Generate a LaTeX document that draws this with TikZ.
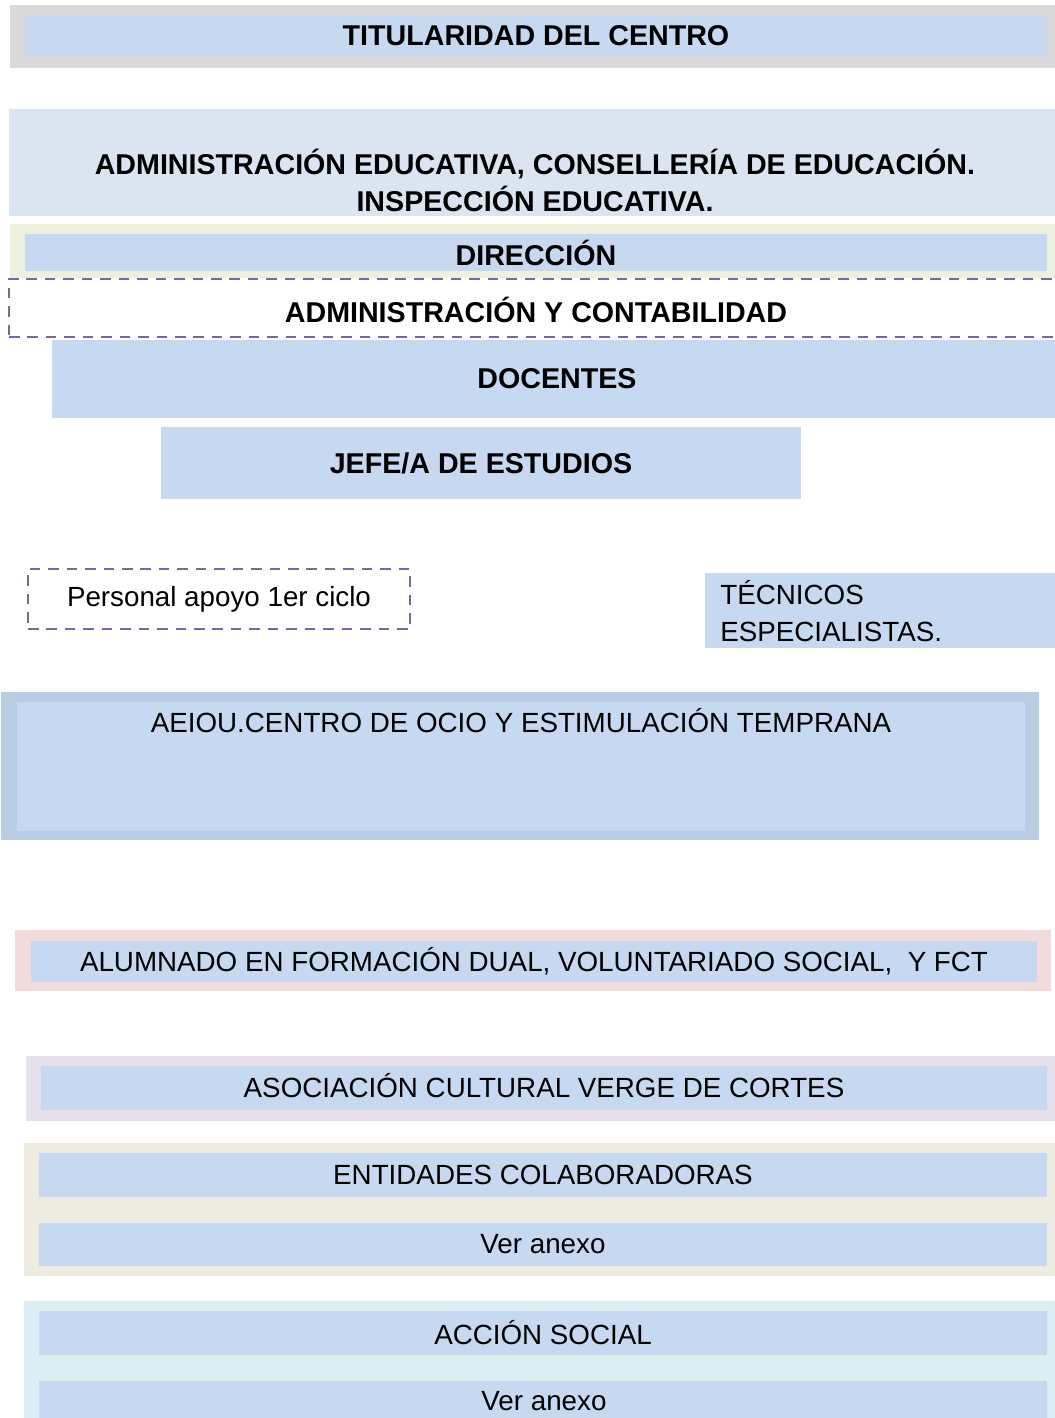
\documentclass[tikz,border=0pt]{standalone}
\usepackage{fontspec}
\setmainfont{Liberation Sans}
\usetikzlibrary{fit,positioning}
\definecolor{boxblue}{HTML}{C6D9F1}
\definecolor{titgray}{HTML}{D9D9D9}
\definecolor{admblue}{HTML}{DBE5F1}
\definecolor{dirgreen}{HTML}{EBF1DE}
\definecolor{purp}{HTML}{8064A2}
\definecolor{aeiouout}{HTML}{B8CCE4}
\definecolor{alumpink}{HTML}{F2DCDB}
\definecolor{asolav}{HTML}{E5E0EC}
\definecolor{entbeige}{HTML}{EEECE1}
\definecolor{acccyan}{HTML}{DBEEF3}
\tikzset{
    every node/.style={font=\fontsize{15.8}{21}\selectfont, inner sep=0pt}, % text size everywhere
    blk/.style={fill=boxblue},
    title/.style={font=\fontsize{16.3}{21}\selectfont\bfseries},
    txt/.style={label={center:#1}},
    ttl/.style={label={[title]center:#1}},
    dashbox/.style={draw=purp, line width=1.4pt, dash pattern=on 6pt off 4.5pt},
}

\begin{document}
\begin{tikzpicture}[x=0.02cm, y=-0.02cm]
    \useasboundingbox (0,0) rectangle (1055,1418);

    \node[fill=titgray, fit={(10,5)(1055,68)}] (titout) {};
    \node[blk, fit={(25,15)(1047,57)}, ttl={TITULARIDAD DEL CENTRO}] (tit) {};

    \node[fill=admblue, fit={(9,109)(1055,216)}] (adm) {};
    \node[title, align=center] (admtxt) at (535,180) {ADMINISTRACIÓN EDUCATIVA, CONSELLERÍA DE EDUCACIÓN.\\INSPECCIÓN EDUCATIVA.};

    \node[fill=dirgreen, fit={(10,224)(1055,278)}] (dirout) {};
    \node[blk, fit={(25,234)(1047,271)}, ttl={DIRECCIÓN}] (dir) {};

    \node[dashbox, fit={(9,279)(1064,337)}] (cont) {};
    \node[title] (conttxt) at (536,310) {ADMINISTRACIÓN Y CONTABILIDAD};

    \node[blk, fit={(52,340)(1062,418)}] (doc) {};
    \node[title] (doctxt) at (557,379) {DOCENTES};
    \node[blk, fit={(161,427)(801,499)}, ttl={JEFE/A DE ESTUDIOS}] (jefe) {};

    \node[dashbox, fit={(28,569)(410,629)}, txt={Personal apoyo 1er ciclo}] (apoyo) {};
    \node[blk, fit={(705,573)(1062,648)}] (tec) {};
    \node[align=left, anchor=west] (tectxt) at (720,611) {TÉCNICOS\\ESPECIALISTAS.};

    \node[fill=aeiouout, fit={(1,692)(1039,840)}] (aeiouout) {};
    \node[blk, fit={(17,702)(1025,831)}] (aeiou) {};
    \node (aeioutxt) at (521,721) {AEIOU.CENTRO DE OCIO Y ESTIMULACIÓN TEMPRANA};

    \node[fill=alumpink, fit={(15,930)(1051,991)}] (alumout) {};
    \node[blk, fit={(31,941)(1037,982)}, txt={ALUMNADO EN FORMACIÓN DUAL, VOLUNTARIADO SOCIAL,\ \ Y FCT}] (alum) {};

    \node[fill=asolav, fit={(26,1056)(1062,1121)}] (asoout) {};
    \node[blk, fit={(41,1066)(1047,1110)}] (aso) {};
    \node (asotxt) at (544,1086) {ASOCIACIÓN CULTURAL VERGE DE CORTES};

    \node[fill=entbeige, fit={(24,1143)(1062,1276)}] (entout) {};
    \node[blk, fit={(39,1153)(1047,1197)}, txt={ENTIDADES COLABORADORAS}] (ent) {};
    \node[blk, fit={(39,1223)(1047,1266)}, txt={Ver anexo}] (entver) {};

    \node[fill=acccyan, fit={(24,1301)(1062,1425)}] (accout) {};
    \node[blk, fit={(39,1311)(1047,1355)}, txt={ACCIÓN SOCIAL}] (acc) {};
    \node[blk, fit={(39,1381)(1047,1423)}] (accver) {};
    \node (accvertxt) at (544,1401) {Ver anexo};
\end{tikzpicture}
\end{document}
